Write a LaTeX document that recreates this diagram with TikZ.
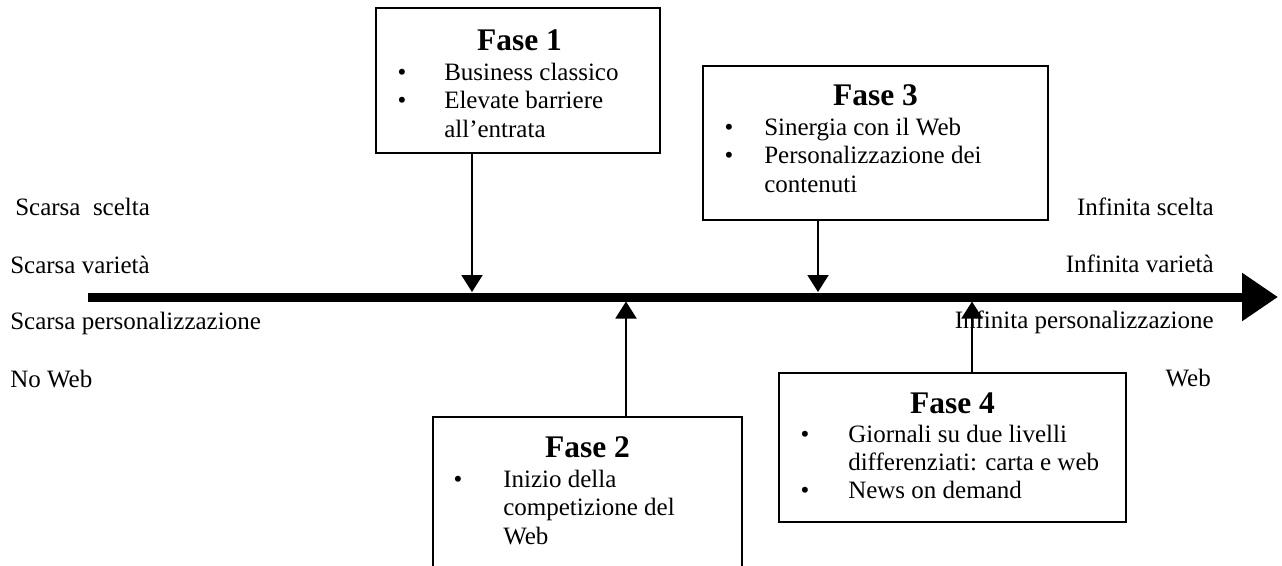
\documentclass[tikz,border=0pt]{standalone}
\usepackage{fontspec}
\setmainfont{Liberation Serif}
\usetikzlibrary{arrows.meta}
\begin{document}
\begin{tikzpicture}[x=0.75pt,y=-0.75pt,
  lbl/.style={inner sep=0pt, font=\fontsize{18.75pt}{22pt}\selectfont},
  txt/.style={lbl, anchor=base west},
  rtxt/.style={lbl, anchor=base east},
  bul/.style={lbl, anchor=base},
  head/.style={inner sep=0pt, anchor=base, font=\bfseries\fontsize{23.6pt}{28pt}\selectfont},
  phasebox/.style={draw, line width=1.5pt, inner sep=0pt, outer sep=0pt, fill=white},
  axisline/.style={line width=6.75pt, -{Triangle[length=27pt,width=34.5pt]}},
  pointer/.style={line width=1.5pt, -{Triangle[length=12.75pt,width=15.75pt]}}
]
\clip (0,0) rectangle (1282,565);

% phase boxes
\node[phasebox, minimum width=213pt, minimum height=108.75pt] (f1) at (518,80.5) {};
\node[phasebox, minimum width=231.75pt, minimum height=112.5pt] (f2) at (587.5,492) {};
\node[phasebox, minimum width=258.75pt, minimum height=115.5pt] (f3) at (875.5,143) {};
\node[phasebox, minimum width=260.25pt, minimum height=111.75pt] (f4) at (952.5,447.5) {};

% Fase 1
\node[head] (f1h) at (519.5,50) {Fase 1};
\node[bul] (f1b1) at (402,80) {•};
\node[bul] (f1b2) at (402,108.5) {•};
\node[txt] (f1t1) at (444,80) {Business classico};
\node[txt] (f1t2) at (444,108.5) {Elevate barriere};
\node[txt] (f1t3) at (444,137) {all’entrata};

% Fase 2
\node[head] (f2h) at (587.5,457) {Fase 2};
\node[bul] (f2b1) at (458,487) {•};
\node[txt] (f2t1) at (503,487) {Inizio della};
\node[txt] (f2t2) at (503,515.5) {competizione del};
\node[txt] (f2t3) at (503,544) {Web};

% Fase 3
\node[head] (f3h) at (875.5,105) {Fase 3};
\node[bul] (f3b1) at (729,135) {•};
\node[bul] (f3b2) at (729,163.5) {•};
\node[txt] (f3t1) at (764,135) {Sinergia con il Web};
\node[txt] (f3t2) at (764,163.5) {Personalizzazione dei};
\node[txt] (f3t3) at (764,192) {contenuti};

% Fase 4
\node[head] (f4h) at (952.5,413) {Fase 4};
\node[bul] (f4b1) at (805,442) {•};
\node[bul] (f4b2) at (805,498) {•};
\node[txt] (f4t1) at (848,442) {Giornali su due livelli};
\node[txt] (f4t2) at (848,470) {differenziati: carta e web};
\node[txt] (f4t3) at (848,498) {News on demand};

% end labels of the scale
\node[txt] (l1) at (15,215) {Scarsa\ \ scelta};
\node[txt] (l2) at (10,273) {Scarsa varietà};
\node[txt] (l3) at (10,329) {Scarsa personalizzazione};
\node[txt] (l4) at (10,387) {No Web};
\node[rtxt] (r1) at (1214,215) {Infinita scelta};
\node[rtxt] (r2) at (1214,272) {Infinita varietà};
\node[rtxt] (r3) at (1214,328) {Infinita personalizzazione};
\node[rtxt] (r4) at (1211,386) {Web};

% main axis
\coordinate (axL) at (88,297);
\coordinate (axR) at (1278,297);
\draw[axisline] (axL) -- (axR);

% pointers from the phases to the axis
\coordinate (p1) at (472,292);
\coordinate (p2) at (626,301.5);
\coordinate (p3) at (818,292);
\coordinate (p4) at (972,301.5);
\draw[pointer] (f1.south -| p1) -- (p1);
\draw[pointer] (f2.north -| p2) -- (p2);
\draw[pointer] (f3.south -| p3) -- (p3);
\draw[pointer] (f4.north -| p4) -- (p4);
\end{tikzpicture}
\end{document}
